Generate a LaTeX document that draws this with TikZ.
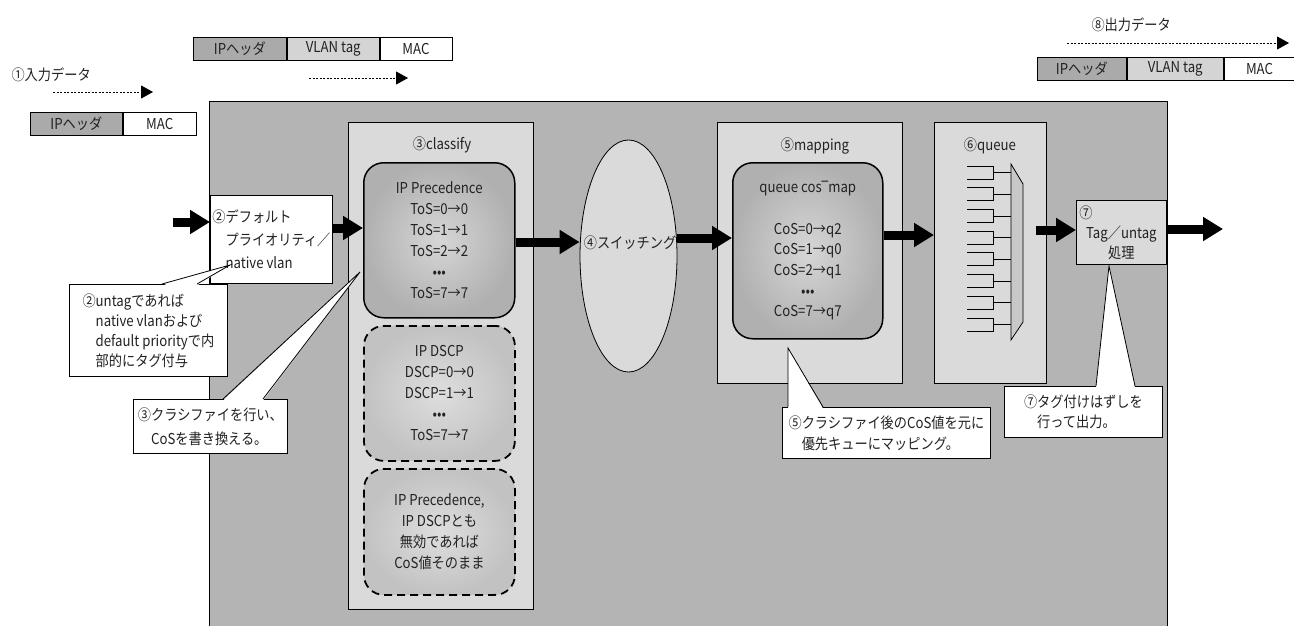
\documentclass[tikz,border=0pt]{standalone}
\usepackage{fontspec}
\setmainfont{Noto Sans CJK JP}[FakeStretch=0.88]
\newfontfamily\symfont{DejaVu Sans}[FakeStretch=0.88]
\usetikzlibrary{arrows.meta,shapes.geometric,calc}
\definecolor{maingray}{RGB}{180,180,180}
\definecolor{panelgray}{RGB}{218,218,218}
\definecolor{ipgray}{RGB}{170,170,170}
\definecolor{vlangray}{RGB}{212,212,212}
\definecolor{shadein}{RGB}{214,214,214}
\definecolor{shadeout}{RGB}{176,176,176}
\definecolor{dshadein}{RGB}{222,222,222}
\definecolor{dshadeout}{RGB}{194,194,194}
\definecolor{muxgray}{RGB}{200,200,200}
\definecolor{txt}{RGB}{34,34,34}
\tikzset{
  bigarrow/.style={line width=9pt, -{Triangle[length=20pt,width=23pt]}},
  dotarrow/.style={line width=0.9pt, dash pattern=on 2pt off 1.5pt, -{Triangle[length=12pt,width=13pt]}},
  cell/.style={draw, line width=0.8pt, minimum height=23pt, inner sep=0pt, anchor=north west},
  panel/.style={draw, line width=0.8pt, fill=panelgray, anchor=north west, inner sep=0pt},
  rbox/.style={rounded corners=20pt, shading=radial, inner color=shadein, outer color=shadeout,
     draw, line width=1.5pt, anchor=north west, align=center, inner sep=0pt},
  dbox/.style={rounded corners=20pt, shading=radial, inner color=dshadein, outer color=dshadeout,
     draw, line width=1.8pt, dash pattern=on 8pt off 5pt, anchor=north west, align=center, inner sep=0pt},
  callout/.style={draw, line width=0.8pt, fill=white, anchor=north west, align=left, inner sep=2pt},
  tail/.style={line width=0.8pt},
}
\begin{document}
\begin{tikzpicture}[x=1pt,y=-1pt, font=\fontsize{15}{21}\selectfont, text=txt]
\useasboundingbox (0,0) rectangle (1294,625);

% ---- input data ----
\node[anchor=west] (inlabel) at (8,75) {①入力データ};
\coordinate (d1s) at (53,92); \coordinate (d1e) at (153,92);
\draw[dotarrow] (d1s) -- (d1e);
\node[cell, fill=ipgray, minimum width=92pt] (inip) at (30,112) {IPヘッダ};
\node[cell, fill=white, minimum width=73pt] (inmac) at (inip.north east) {MAC};

% ---- tagged data ----
\node[cell, fill=ipgray, minimum width=93pt] (mip) at (193,37) {IPヘッダ};
\node[cell, fill=vlangray, minimum width=92pt] (mvlan) at (mip.north east) {VLAN tag};
\node[cell, fill=white, minimum width=72pt] (mmac) at (mvlan.north east) {MAC};
\coordinate (d2s) at (309,78); \coordinate (d2e) at (408,78);
\draw[dotarrow] (d2s) -- (d2e);

% ---- output data ----
\node[anchor=west] (outlabel) at (1088,25) {⑧出力データ};
\coordinate (d3s) at (1067,43); \coordinate (d3e) at (1289,43);
\draw[dotarrow] (d3s) -- (d3e);
\node[cell, fill=ipgray, minimum width=89pt] (oip) at (1037,57) {IPヘッダ};
\node[cell, fill=vlangray, minimum width=96pt] (ovlan) at (oip.north east) {VLAN tag};
\node[cell, fill=white, minimum width=71pt] (omac) at (ovlan.north east) {MAC};

% ---- main area ----
\node[panel, fill=maingray, minimum width=958pt, minimum height=530pt] (main) at (209,101) {};

% default priority box
\node[draw, line width=0.8pt, fill=white, anchor=north west, minimum width=120pt, minimum height=88pt,
      align=left, inner sep=2pt, font=\fontsize{15}{23}\selectfont] (dflt) at (210,195)
  {②デフォルト\\\phantom{②}プライオリティ／\\\phantom{②}native vlan};

% classify
\node[panel, minimum width=185pt, minimum height=487pt] (cls) at (348,122) {};
\node (clslbl) at (442,145) {③classify};
\node[rbox, minimum width=151pt, minimum height=155pt] (prec) at (363,162)
  {IP Precedence\\ToS=0→0\\ToS=1→1\\ToS=2→2\\•••\\ToS=7→7};
\node[dbox, minimum width=151pt, minimum height=135pt] (dscp) at (363,325)
  {IP DSCP\\DSCP=0→0\\DSCP=1→1\\•••\\ToS=7→7};
\node[dbox, minimum width=151pt, minimum height=126pt] (none) at (363,468)
  {IP Precedence,\\IP DSCPとも\\無効であれば\\CoS値そのまま};

% switching
\node[ellipse, draw, line width=0.8pt, fill=panelgray, minimum width=97pt, minimum height=232pt, inner sep=0pt] (sw) at (628.5,256) {};
\node (swlbl) at (630,243) {④スイッチング};

% mapping
\node[panel, minimum width=185pt, minimum height=261pt] (map) at (717,122) {};
\node (maplbl) at (815,146) {⑤mapping};
\node[rbox, minimum width=150pt, minimum height=176pt, font=\fontsize{15}{20.7}\selectfont] (mapin) at (732,162)
  {queue cos{\symfont ‾}map\\[20.7pt]CoS=0→q2\\CoS=1→q0\\CoS=2→q1\\•••\\CoS=7→q7};

% queue
\node[panel, minimum width=112pt, minimum height=261pt] (queue) at (934,122) {};
\node (queuelbl) at (990,146) {⑥queue};
\draw[line width=0.8pt, fill=muxgray] (1011,164) -- (1023,184) -- (1023,322) -- (1011,340) -- cycle;
\foreach \i in {0,...,7} {
  \pgfmathsetmacro\t{166+21.7*\i}
  \draw[line width=0.8pt] (967,\t) -- (993,\t) -- (993,{\t+13}) -- (967,{\t+13});
  \draw[line width=0.8pt] (993,{\t+6.5}) -- (1011,{\t+6.5});
}

% tag/untag
\node[panel, minimum width=90pt, minimum height=64pt, align=center, font=\fontsize{15}{20}\selectfont] (tag) at (1076,200)
  {\makebox[84pt][l]{⑦}\\Tag／untag\\処理};

% ---- big arrows ----
\coordinate (in0) at (173,222);
\coordinate (ya2) at (0,228);
\coordinate (ya3) at (0,242);
\coordinate (ya4) at (0,238);
\coordinate (ya5) at (0,235);
\coordinate (ya6) at (0,230);
\coordinate (out0) at (1223,229);
\draw[bigarrow] (in0) -- (in0 -| dflt.west);
\draw[bigarrow] (dflt.east |- ya2) -- (prec.west |- ya2);
\draw[bigarrow] (prec.east |- ya3) -- (sw.west |- ya3);
\draw[bigarrow] (sw.east |- ya4) -- (mapin.west |- ya4);
\draw[bigarrow] (mapin.east |- ya5) -- (queue.west |- ya5);
\coordinate (a6s) at ($(queue.east |- ya6)+(-11,0)$);
\draw[bigarrow] (a6s) -- (tag.west |- ya6);
\draw[bigarrow] (tag.east |- out0) -- (out0);

% ---- callouts ----
\node[callout, minimum width=158pt, minimum height=92pt, font=\fontsize{15}{20}\selectfont] (c2) at (69,284)
  {②untagであれば\\\phantom{②}native vlanおよび\\\phantom{②}default priorityで内\\\phantom{②}部的にタグ付与};
\coordinate (c2tip) at (230,265);
\fill[white] (162,285.5) -- (c2tip) -- (197,285.5) -- cycle;
\draw[tail] ($(c2.north west)+(93,0)$) -- (c2tip) -- ($(c2.north west)+(128,0)$);

\node[callout, minimum width=154pt, minimum height=54pt, font=\fontsize{15}{24}\selectfont] (c3) at (133,399)
  {③クラシファイを行い、\\\phantom{③}CoSを書き換える。};
\coordinate (c3tip) at (360,272);
\fill[white] (223,400.5) -- (c3tip) -- (263,400.5) -- cycle;
\draw[tail] ($(c3.north west)+(90,0)$) -- (c3tip) -- ($(c3.north west)+(130,0)$);

\node[callout, minimum width=208pt, minimum height=51pt, font=\fontsize{15}{21}\selectfont] (c5) at (782,407)
  {⑤クラシファイ後のCoS値を元に\\\phantom{⑤}優先キューにマッピング。};
\coordinate (c5tip) at (788,348);
\fill[white] (788,408.5) -- (c5tip) -- (823,408.5) -- cycle;
\draw[tail] ($(c5.north west)+(6,0)$) -- (c5tip) -- ($(c5.north west)+(41,0)$);

\node[callout, minimum width=158pt, minimum height=51pt, font=\fontsize{15}{20}\selectfont] (c7) at (1004,386)
  {⑦タグ付けはずしを\\\phantom{⑦}行って出力。};
\coordinate (c7tip) at (1109,266);
\fill[white] (1096,387.5) -- (c7tip) -- (1135,387.5) -- cycle;
\draw[tail] ($(c7.north west)+(92,0)$) -- (c7tip) -- ($(c7.north west)+(131,0)$);
\end{tikzpicture}
\end{document}
